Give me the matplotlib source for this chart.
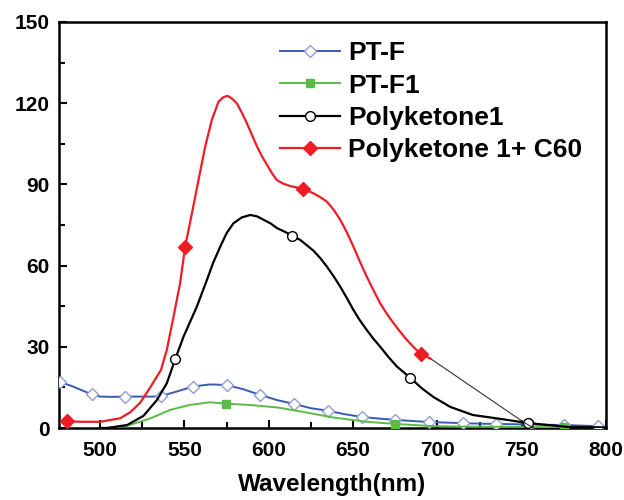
import numpy as np
import matplotlib
matplotlib.use('Agg')
import matplotlib.pyplot as plt
from matplotlib.ticker import MultipleLocator

plt.rcParams['font.family'] = ['Liberation Sans', 'DejaVu Sans']
plt.rcParams['font.weight'] = 'bold'

# PT-F (blue, open diamonds)
ptf_x = [476, 484, 495, 500, 507, 515, 523, 531, 536, 545, 555, 565, 575, 585, 595,
         605, 615, 625, 635, 645, 655, 665, 675, 685, 695, 705, 715, 725, 735, 745,
         755, 765, 775, 785, 795]
ptf_y = [17.1, 15.3, 12.4, 11.6, 11.5, 11.6, 11.6, 11.6, 11.8, 13.4, 15.3, 16.1, 15.9, 14.3, 12.2,
         10.3, 8.9, 7.3, 6.4, 5.1, 4.1, 3.5, 3.0, 2.6, 2.2, 2.0, 1.8, 1.6, 1.5, 1.4,
         1.3, 1.2, 1.1, 0.9, 0.7]
ptf_marks = [0, 2, 5, 8, 10, 12, 14, 16, 18, 20, 22, 24, 26, 28, 30, 32, 34]

# PT-F1 (green, filled squares)
ptf1_x = [500, 506, 516, 524, 530, 541.5, 553, 565, 574.5, 589, 605, 620, 638, 658, 675,
          697, 720, 750, 775, 800]
ptf1_y = [0.0, 0.1, 0.8, 2.4, 3.6, 6.7, 8.5, 9.5, 9.0, 8.5, 7.6, 6.0, 3.9, 2.3, 1.5,
          0.7, 0.5, 0.4, 0.3, 0.1]
ptf1_marks = [8, 14, 18]

# Polyketone1 (black, open circles)
pk_x = [500, 504, 516, 525.7, 533.6, 539.5, 544.5, 549.4, 557.3, 563.3, 567, 571.2, 575, 579, 584,
        589, 593, 597, 601, 605, 609.5, 614, 618.6, 622.6, 626.5, 630.5, 634.5, 638.5, 642.4, 646.3,
        650.2, 654, 658.1, 662, 666.1, 671, 676, 684, 690.5, 697.5, 707.6, 721, 737, 754,
        777, 800]
pk_y = [0.0, 0.0, 1.1, 4.5, 10.3, 16.5, 25.4, 33.7, 44.8, 54.7, 61.0, 67.0, 72.0, 75.6, 77.8,
        78.7, 78.2, 76.9, 75.6, 73.8, 72.5, 71.0, 69.5, 67.5, 65.5, 62.8, 59.6, 56.0, 52.2, 48.0,
        43.6, 39.8, 36.2, 33.0, 30.0, 26.2, 22.7, 18.5, 14.8, 11.5, 7.8, 4.8, 3.4, 1.8,
        0.4, 0.2]
pk_marks = [6, 21, 37, 43]

# Polyketone 1 + C60 (red, filled diamonds)
pkc_x = [480.2, 488, 500, 511.9, 517.8, 523.7, 529.7, 536, 539.5, 543.5, 547.4, 550.4, 554.4, 558.3, 562.3,
         566.2, 570.2, 573, 575.5, 578, 581, 584, 587, 590, 593, 596, 599, 602, 604.8, 608.5,
         612.7, 616.5, 620.4, 626.5, 630.5, 634.5, 638.5, 642.4, 646.3, 650.2, 654, 658.1, 662, 666.1, 670,
         674, 678, 681.9, 686, 690.2, 696]
pkc_y = [2.6, 2.3, 2.3, 3.6, 5.8, 9.3, 15.0, 21.4, 28.8, 41.1, 53.5, 67.0, 79.3, 91.6, 104.0,
         113.8, 120.6, 122.2, 122.7, 121.8, 120.0, 116.5, 112.6, 108.3, 104.0, 100.3, 97.2, 94.0, 91.6, 90.3,
         89.4, 88.9, 88.4, 86.7, 85.3, 83.6, 80.6, 76.9, 72.3, 67.0, 61.5, 55.9, 51.0, 46.0, 42.2,
         38.7, 35.5, 32.5, 29.8, 27.3, 25.6]
pkc_marks = [0, 11, 32, 49]
# thin tail of the red curve
tail_x = [696, 751, 757]
tail_y = [25.6, 2.2, 0.0]

fig = plt.figure(figsize=(6.24, 5.0), dpi=100)
ax = fig.add_axes([0.0946, 0.144, 0.8766, 0.812])

ax.plot(ptf_x, ptf_y, color='#3a5aae', lw=1.4, marker='D', ms=6.5, mfc='white',
        mec='#8f9fd3', mew=1.0, markevery=ptf_marks, label='PT-F', zorder=3)
ax.plot(ptf1_x, ptf1_y, color='#5cbb46', lw=1.4, marker='s', ms=6, mfc='#5cbb46',
        mec='#5cbb46', markevery=ptf1_marks, label='PT-F1', zorder=3)
ax.plot(pk_x, pk_y, color='black', lw=1.6, marker='o', ms=7, mfc='white',
        mec='black', mew=1.0, markevery=pk_marks, label='Polyketone1', zorder=4)
ax.plot(pkc_x, pkc_y, color='#ee1c25', lw=1.6, marker='D', ms=7, mfc='#ee1c25',
        mec='#ee1c25', markevery=pkc_marks, label='Polyketone 1+ C60', zorder=5)
ax.plot(tail_x, tail_y, color='#333333', lw=0.8, zorder=4)

ax.set_xlim(475.6, 800)
ax.set_ylim(0, 150)
ax.xaxis.set_major_locator(MultipleLocator(50))
ax.xaxis.set_minor_locator(MultipleLocator(25))
ax.yaxis.set_major_locator(MultipleLocator(30))
ax.yaxis.set_minor_locator(MultipleLocator(15))
ax.tick_params(which='both', direction='in', width=1.5, labelsize=15)
ax.tick_params(which='major', length=6)
ax.tick_params(which='minor', length=4)
ax.tick_params(axis='x', pad=9)
ax.tick_params(axis='y', pad=7)
for s in ax.spines.values():
    s.set_linewidth(1.8)
for lab in ax.get_xticklabels() + ax.get_yticklabels():
    lab.set_fontweight('bold')

ax.set_xlabel('Wavelength(nm)', fontsize=17.5, fontweight='bold', labelpad=10)

ax.legend(loc='upper left', bbox_to_anchor=(0.384, 0.978), frameon=False,
          prop={'size': 19, 'weight': 'bold'}, handlelength=2.3,
          handletextpad=0.3, labelspacing=0.31, borderaxespad=0)

fig.savefig('out.png', dpi=100)
